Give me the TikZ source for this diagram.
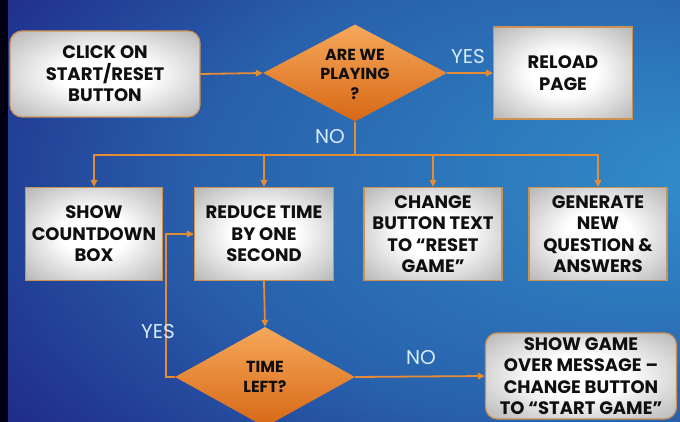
\documentclass[tikz,border=0pt]{standalone}
\usepackage{fontspec}
\setmainfont{Poppins}
\usetikzlibrary{shapes.geometric,arrows.meta}
\definecolor{lineor}{RGB}{230,140,50}
\definecolor{boxedge}{RGB}{205,145,80}
\definecolor{diatop}{RGB}{246,168,90}
\definecolor{diabot}{RGB}{214,104,22}
\definecolor{labc}{RGB}{215,235,250}
\definecolor{txt}{RGB}{15,15,15}
\definecolor{bgl}{RGB}{50,142,202}
\definecolor{bgm}{RGB}{40,96,172}
\definecolor{bgd}{RGB}{28,20,122}
\pgfdeclareradialshading{vign}{\pgfpoint{0bp}{0bp}}{color(0bp)=(white); color(12bp)=(white); color(40bp)=(black!34); color(50bp)=(black!46); color(72bp)=(black!58)}
\pgfdeclareradialshading{bgshade}{\pgfpoint{28bp}{4bp}}{color(0bp)=(bgl); color(28bp)=(bgm); color(52bp)=(bgd); color(75bp)=(bgd)}
\tikzset{
  box/.style={draw=boxedge, line width=1.2pt, shading=vign, text=txt, align=center,
    font=\fontsize{18}{21.5}\selectfont\bfseries, inner sep=0pt},
  dia/.style={diamond, draw=none, top color=diatop, bottom color=diabot, inner sep=0pt},
  diatext/.style={text=txt, align=center, font=\fontsize{16}{19.5}\selectfont\bfseries},
  conn/.style={draw=lineor, line width=1.8pt, -{Triangle[length=7pt,width=6.5pt]}},
  plain/.style={draw=lineor, line width=1.8pt},
  lab/.style={text=labc, font=\fontsize{20}{22}\selectfont}
}
\begin{document}
\begin{tikzpicture}[x=1pt,y=-1pt]
\useasboundingbox (0,0) rectangle (680,422);
\shade[shading=bgshade] (0,0) rectangle (680,422);
\fill[black!92!blue] (0,0) rectangle (8,422);

% nodes
\node[box, rounded corners=12pt, minimum width=190pt, minimum height=86pt] (click) at (105,74) {CLICK ON\\START/RESET\\BUTTON};
\node[dia, minimum width=184pt, minimum height=97pt] (dA) at (355,73) {};
\node[diatext] (dAt) at (355,74) {ARE WE\\PLAYING\\?};
\node[box, minimum width=139pt, minimum height=92pt] (reload) at (563,73) {RELOAD\\PAGE};

\node[box, minimum width=137pt, minimum height=93pt] (count) at (94,234) {SHOW\\COUNTDOWN\\BOX};
\node[box, minimum width=139pt, minimum height=93pt] (reduce) at (264,234) {REDUCE TIME\\BY ONE\\SECOND};
\node[box, minimum width=138pt, minimum height=93pt] (change) at (433,234) {CHANGE\\BUTTON TEXT\\TO “RESET\\GAME”};
\node[box, minimum width=138pt, minimum height=93pt] (gen) at (598,234) {GENERATE\\NEW\\QUESTION \&\\ANSWERS};

\node[dia, minimum width=180pt, minimum height=100pt] (dT) at (265,377) {};
\node[diatext] (dTt) at (265,377) {TIME\\LEFT?};
\node[box, rounded corners=12pt, minimum width=191pt, minimum height=86pt] (over) at (581,376) {SHOW GAME\\OVER MESSAGE –\\CHANGE BUTTON\\TO “START GAME”};

% connectors
\coordinate (j) at (355,155);
\draw[conn] (click.east) -- (dA.west);
\draw[conn] (dA.east) -- (reload.west);
\draw[plain] (dA.south) -- (j);
\draw[conn] (j) -| (count.north);
\draw[conn] (j) -| (reduce.north);
\draw[conn] (j) -| (change.north);
\draw[conn] (j) -| (gen.north);
\draw[conn] (reduce.south) -- (dT.north);
\draw[conn] (dT.west) -- ++(-9,0) |- (reduce.west);
\draw[conn] (dT.east) -- (over.west);

% labels
\node[lab] (l1) at (468,57) {YES};
\node[lab] (l2) at (330,137) {NO};
\node[lab] (l3) at (158,332) {YES};
\node[lab] (l4) at (421,358) {NO};
\end{tikzpicture}
\end{document}
